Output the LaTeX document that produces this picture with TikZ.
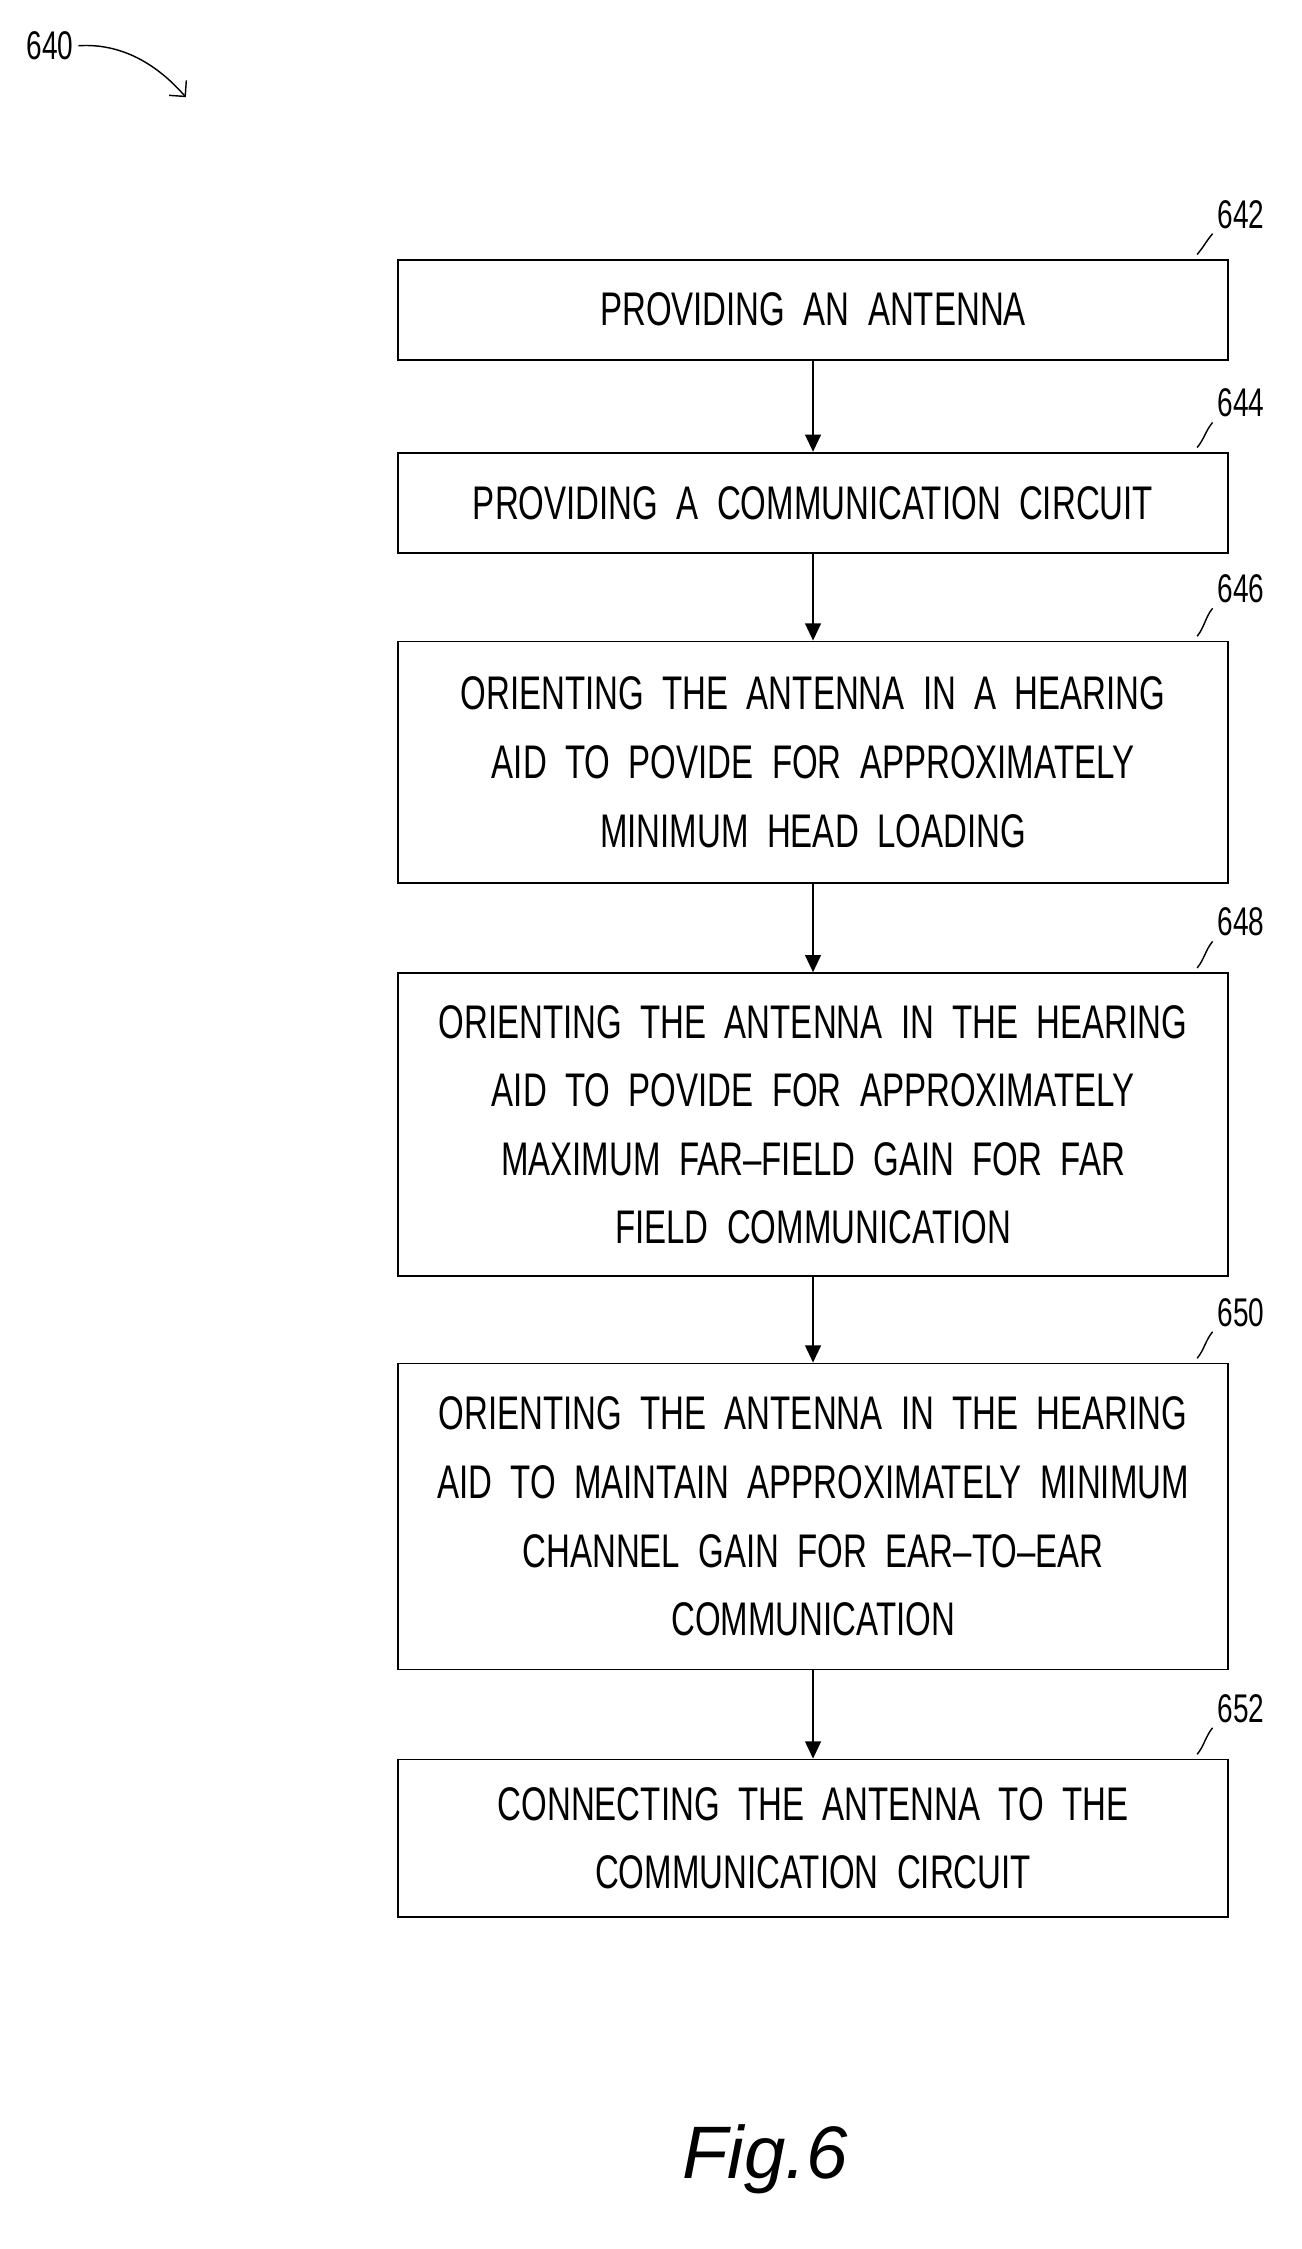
\documentclass[tikz,border=0pt]{standalone}
\usepackage{fontspec}
\setmainfont{Liberation Sans}
\newfontfamily\narrowfont[FakeStretch=0.7,WordSpace=2]{Liberation Sans}
\usetikzlibrary{arrows.meta}
\begin{document}
\begin{tikzpicture}[x=1pt,y=-1pt,
  box/.style={draw,line width=1.3pt,minimum width=580pt,anchor=north west,inner sep=0pt,align=center,font=\narrowfont\fontsize{33}{48}\selectfont},
  lab/.style={font=\narrowfont\fontsize{28}{30}\selectfont},
  arr/.style={-{Triangle[length=12pt,width=11pt]},line width=1.3pt}]
\useasboundingbox (0,0) rectangle (910,1573);
\node[box,minimum height=70pt] (b1) at (278,181) {PROVIDING AN ANTENNA};
\node[box,minimum height=70pt] (b2) at (278,316) {PROVIDING A COMMUNICATION CIRCUIT};
\node[box,minimum height=169pt] (b3) at (278,448) {ORIENTING THE ANTENNA IN A HEARING\\AID TO POVIDE FOR APPROXIMATELY\\MINIMUM HEAD LOADING};
\node[box,minimum height=212pt] (b4) at (278,680) {ORIENTING THE ANTENNA IN THE HEARING\\AID TO POVIDE FOR APPROXIMATELY\\MAXIMUM FAR–FIELD GAIN FOR FAR\\FIELD COMMUNICATION};
\node[box,minimum height=214pt] (b5) at (278,953) {ORIENTING THE ANTENNA IN THE HEARING\\AID TO MAINTAIN APPROXIMATELY MINIMUM\\CHANNEL GAIN FOR EAR–TO–EAR\\COMMUNICATION};
\node[box,minimum height=110pt] (b6) at (278,1230) {CONNECTING THE ANTENNA TO THE\\COMMUNICATION CIRCUIT};
\foreach \a/\b in {b1/b2,b2/b3,b3/b4,b4/b5,b5/b6} \draw[arr] (\a.south) -- (\b.north);
\foreach \n/\t/\y in {b1/642/150,b2/644/282,b3/646/412,b4/648/645,b5/650/918,b6/652/1195}{
  \node[lab] (l\t) at (868,\y) {\t};
  \draw[line width=1pt] (\n.north east) ++(-22,-3) .. controls +(5,-6) and +(-5,6) .. (l\t.south west);
}
\node[lab] (l640) at (35,32) {640};
\coordinate (tip) at (130,68);
\draw[line width=1pt,-{Straight Barb[length=8pt]}] (l640.east) .. controls (85,30) and (110,45) .. (tip);
\node[font=\itshape\fontsize{52}{54}\selectfont] (fig) at (535,1510) {Fig.6};
\end{tikzpicture}
\end{document}
